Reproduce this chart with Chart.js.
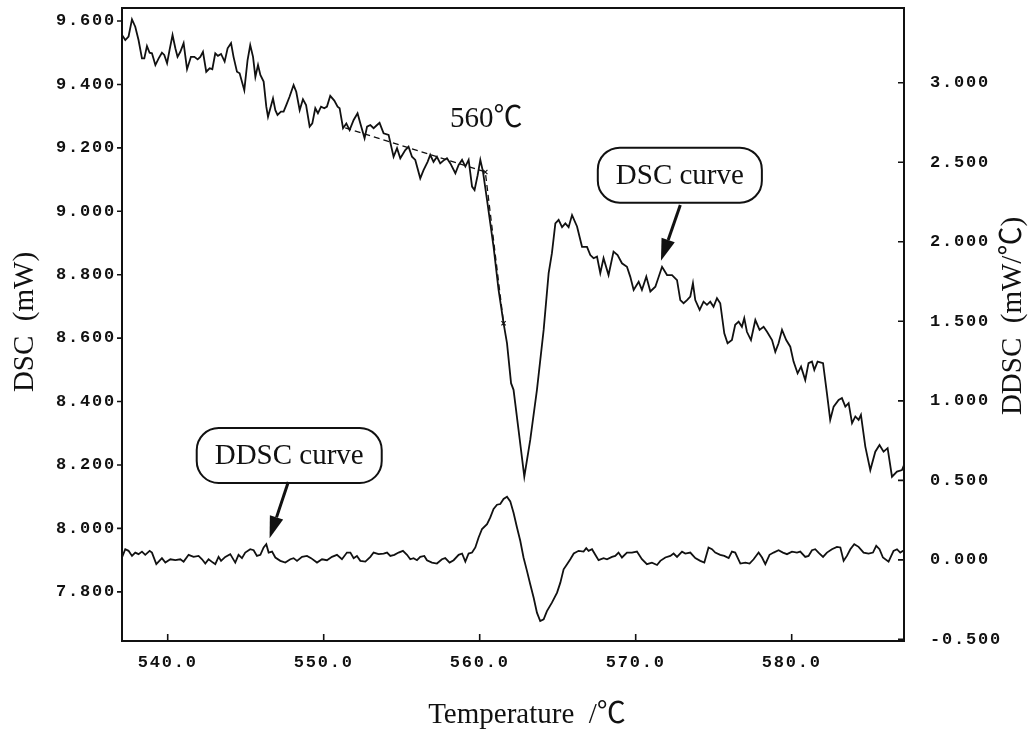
<!DOCTYPE html>
<html>
<head>
<meta charset="utf-8">
<title>DSC / DDSC</title>
<script src="https://cdn.jsdelivr.net/npm/chart.js@4/dist/chart.umd.min.js"></script>
<style>
  html, body { margin: 0; padding: 0; background: #fff; }
  #wrap { width: 1030px; height: 731px; position: relative; }
</style>
</head>
<body>
<div id="wrap"><canvas id="dscChart"></canvas></div>
<script>
// temperature (°C) and DSC signal (mW)
var dscTemp = [
  537.07,537.28,537.49,537.71,537.92,538.13,538.35,538.50,538.67,538.84,
  538.99,539.21,539.42,539.63,539.78,539.96,540.12,540.31,540.49,540.63,
  540.81,541.02,541.24,541.49,541.71,541.92,542.09,542.26,542.47,542.69,
  542.86,543.05,543.22,543.42,543.65,543.84,544.06,544.22,544.44,544.61,
  544.91,545.12,545.29,545.47,545.62,545.79,545.94,546.15,546.32,546.43,
  546.58,546.75,546.90,547.04,547.26,547.43,547.60,547.81,548.07,548.24,
  548.46,548.67,548.87,549.10,549.27,549.46,549.63,549.83,550.04,550.21,
  550.42,550.68,550.89,551.02,551.24,551.45,551.66,551.92,552.17,552.35,
  552.62,552.78,552.99,553.20,553.42,553.58,553.84,554.16,554.48,554.70,
  554.91,555.23,555.44,555.66,555.87,556.19,556.40,556.66,556.83,557.04,
  557.26,557.47,557.73,557.90,558.12,558.44,558.65,558.87,559.08,559.29,
  559.51,559.67,559.87,560.04,560.21,560.47,560.68,560.89,561.21,561.53,
  561.75,562.01,562.17,562.49,562.86,563.24,563.67,564.10,564.42,564.63,
  564.85,565.06,565.28,565.49,565.70,565.92,566.24,566.56,566.88,567.09,
  567.30,567.52,567.73,567.94,568.26,568.58,568.84,569.12,569.44,569.65,
  569.87,570.19,570.40,570.68,570.94,571.26,571.69,572.01,572.33,572.65,
  572.86,573.07,573.29,573.50,573.67,573.82,574.10,574.35,574.57,574.78,
  574.99,575.21,575.42,575.68,575.89,576.17,576.38,576.60,576.81,576.96,
  577.13,577.39,577.67,577.94,578.20,578.42,578.74,578.95,579.16,579.38,
  579.65,579.91,580.12,580.38,580.60,580.87,581.08,581.30,581.45,581.66,
  582.01,582.26,582.47,582.69,583.01,583.22,583.44,583.65,583.87,584.08,
  584.29,584.44,584.72,585.04,585.36,585.63,585.89,586.15,586.43,586.75,
  587.07,587.20
];
var dscValue = [
  9.556,9.540,9.551,9.605,9.582,9.540,9.482,9.482,9.521,9.500,
  9.498,9.461,9.482,9.500,9.493,9.467,9.509,9.556,9.514,9.487,
  9.503,9.530,9.448,9.487,9.487,9.479,9.487,9.503,9.440,9.451,
  9.448,9.498,9.490,9.496,9.472,9.514,9.530,9.487,9.440,9.435,
  9.382,9.477,9.524,9.487,9.424,9.461,9.430,9.409,9.330,9.298,
  9.325,9.356,9.319,9.304,9.314,9.314,9.335,9.361,9.398,9.377,
  9.319,9.353,9.335,9.267,9.277,9.325,9.309,9.330,9.325,9.330,
  9.364,9.349,9.330,9.325,9.262,9.277,9.256,9.288,9.309,9.277,
  9.230,9.267,9.272,9.262,9.272,9.279,9.246,9.241,9.172,9.199,
  9.167,9.193,9.204,9.172,9.162,9.104,9.130,9.156,9.178,9.156,
  9.172,9.151,9.162,9.167,9.151,9.120,9.146,9.162,9.141,9.162,
  9.078,9.067,9.114,9.162,9.125,9.036,8.962,8.888,8.752,8.647,
  8.584,8.458,8.437,8.311,8.163,8.279,8.437,8.626,8.805,8.868,
  8.962,8.973,8.950,8.962,8.950,8.988,8.952,8.888,8.888,8.862,
  8.852,8.857,8.805,8.852,8.799,8.873,8.862,8.836,8.825,8.794,
  8.752,8.778,8.752,8.794,8.747,8.762,8.825,8.799,8.799,8.783,
  8.720,8.710,8.720,8.731,8.773,8.720,8.689,8.715,8.705,8.715,
  8.699,8.726,8.710,8.615,8.584,8.594,8.642,8.652,8.636,8.663,
  8.620,8.594,8.657,8.626,8.636,8.620,8.594,8.557,8.584,8.626,
  8.594,8.573,8.526,8.489,8.510,8.468,8.521,8.526,8.500,8.526,
  8.521,8.426,8.342,8.384,8.405,8.411,8.384,8.395,8.332,8.353,
  8.342,8.358,8.258,8.184,8.242,8.263,8.242,8.253,8.163,8.179,
  8.184,8.200
];

// temperature (°C) and DDSC signal (mW/°C)
var ddscTemp = [
  537.07,537.28,537.49,537.71,537.92,538.13,538.35,538.56,538.84,538.99,
  539.27,539.63,539.85,540.17,540.49,540.81,541.02,541.34,541.66,541.98,
  542.20,542.41,542.62,542.90,543.05,543.26,543.42,543.69,544.01,544.33,
  544.54,544.76,544.97,545.29,545.51,545.72,545.94,546.15,546.32,546.47,
  546.69,546.90,547.22,547.54,547.86,548.07,548.29,548.61,548.93,549.19,
  549.57,549.89,550.21,550.53,550.85,551.17,551.49,551.71,551.92,552.13,
  552.35,552.67,552.99,553.20,553.52,553.84,554.06,554.27,554.53,554.80,
  555.08,555.34,555.55,555.76,555.98,556.19,556.45,556.62,556.94,557.26,
  557.58,557.79,558.07,558.33,558.65,558.87,559.08,559.29,559.51,559.72,
  559.93,560.15,560.47,560.68,560.89,561.11,561.32,561.53,561.75,561.96,
  562.17,562.39,562.60,562.81,563.03,563.24,563.46,563.67,563.88,564.10,
  564.31,564.63,564.96,565.17,565.38,565.60,565.81,566.03,566.34,566.66,
  566.83,566.98,567.20,567.41,567.62,567.94,568.16,568.48,568.69,568.90,
  569.12,569.44,569.76,570.08,570.40,570.72,571.04,571.37,571.58,571.90,
  572.22,572.43,572.65,572.97,573.18,573.50,573.82,574.14,574.40,574.67,
  574.89,575.10,575.42,575.68,575.96,576.17,576.38,576.71,577.03,577.30,
  577.56,577.88,578.10,578.31,578.58,578.84,579.16,579.44,579.70,580.02,
  580.34,580.55,580.87,581.08,581.30,581.51,581.72,582.01,582.26,582.58,
  582.90,583.12,583.33,583.54,583.76,584.01,584.29,584.61,584.93,585.21,
  585.42,585.63,585.85,586.21,586.53,586.75,586.96,587.20
];
var ddscValue = [
  0.015,0.067,0.057,0.025,0.046,0.036,0.052,0.032,0.057,0.046,
  -0.027,0.011,-0.017,0.004,-0.002,0.004,-0.011,0.032,0.019,0.025,
  0.004,-0.023,0.004,-0.017,-0.027,0.019,-0.006,0.019,0.036,-0.017,
  0.032,0.011,0.046,0.067,0.061,0.025,0.032,0.078,0.099,0.046,
  0.052,0.015,-0.006,-0.017,0.004,0.011,-0.006,0.019,0.025,0.011,
  -0.017,0.004,-0.002,0.019,0.032,0.004,0.046,0.046,0.011,0.025,
  -0.006,-0.011,0.019,0.046,0.036,0.040,0.046,0.025,0.032,0.046,
  0.057,0.032,0.004,0.011,-0.002,0.019,0.025,-0.002,-0.017,-0.023,
  0.004,0.011,-0.017,-0.002,0.032,0.040,-0.011,0.040,0.046,0.078,
  0.141,0.194,0.225,0.267,0.320,0.347,0.351,0.383,0.397,0.368,
  0.296,0.204,0.120,0.015,-0.069,-0.153,-0.238,-0.332,-0.385,-0.374,
  -0.322,-0.269,-0.206,-0.143,-0.059,-0.027,0.004,0.040,0.057,0.052,
  0.074,0.057,0.067,0.032,-0.002,0.011,0.004,0.019,0.025,0.046,
  0.015,0.046,0.046,0.052,0.004,-0.027,-0.017,-0.032,-0.006,0.015,
  0.025,0.040,0.019,0.052,0.040,0.046,0.011,-0.006,-0.017,0.078,
  0.067,0.046,0.032,0.025,0.011,0.052,0.046,-0.023,-0.017,-0.023,
  0.004,0.046,0.015,-0.027,0.032,0.046,0.061,0.046,0.036,0.052,
  0.046,0.052,0.019,0.025,0.061,0.067,0.046,0.019,0.046,0.067,
  0.082,0.078,-0.006,0.025,0.067,0.099,0.082,0.046,0.040,0.046,
  0.088,0.067,0.015,-0.011,0.057,0.067,0.046,0.061
];

// onset construction: baseline tangent, crossing point, slope point
var onsetTemp = [551.38, 560.36, 561.53];
var onsetValue = [9.263, 9.124, 8.647];

var tempTicks = [540, 550, 560, 570, 580];
var dscTicks = [7.8, 8.0, 8.2, 8.4, 8.6, 8.8, 9.0, 9.2, 9.4, 9.6];
var ddscTicks = [-0.5, 0, 0.5, 1.0, 1.5, 2.0, 2.5, 3.0];

function pairs(xs, ys) {
  var out = [];
  for (var i = 0; i < xs.length; i++) out.push({x: xs[i], y: ys[i]});
  return out;
}

var INK = '#111';
var SERIF = '"Liberation Serif", "Noto Sans CJK JP", serif';

function roundBox(ctx, cx, cy, w, h, r) {
  var x = cx - w / 2, y = cy - h / 2;
  ctx.beginPath();
  ctx.moveTo(x + r, y);
  ctx.arcTo(x + w, y, x + w, y + h, r);
  ctx.arcTo(x + w, y + h, x, y + h, r);
  ctx.arcTo(x, y + h, x, y, r);
  ctx.arcTo(x, y, x + w, y, r);
  ctx.closePath();
  ctx.stroke();
}

function arrow(ctx, x1, y1, x2, y2) {
  var a = Math.atan2(y2 - y1, x2 - x1);
  var hl = 22, hw = 7;
  var bx = x2 - hl * Math.cos(a), by = y2 - hl * Math.sin(a);
  ctx.beginPath();
  ctx.lineWidth = 3;
  ctx.moveTo(x1, y1);
  ctx.lineTo(bx, by);
  ctx.stroke();
  ctx.beginPath();
  ctx.moveTo(x2, y2);
  ctx.lineTo(bx + hw * Math.sin(a), by - hw * Math.cos(a));
  ctx.lineTo(bx - hw * Math.sin(a), by + hw * Math.cos(a));
  ctx.closePath();
  ctx.fill();
}

function labelBox(ctx, text, cx, cy) {
  ctx.font = '29px ' + SERIF;
  var w = ctx.measureText(text).width + 36;
  ctx.lineWidth = 2;
  roundBox(ctx, cx, cy, w, 55, 22);
  ctx.fillText(text, cx, cy + 1);
}

// keep the plot frame where the scan has it, whatever the label padding says
function fixBox(size, prop) {
  return function(s) {
    s[prop] = size;
    s.paddingTop = 0; s.paddingBottom = 0;
    s.paddingLeft = 0; s.paddingRight = 0;
  };
}

var decorations = {
  id: 'decorations',
  beforeDraw: function(chart) {
    // spaced-out tick numerals like the plotter output
    chart.ctx.letterSpacing = '1.8px';
  },
  afterDraw: function(chart) {
    var ctx = chart.ctx, a = chart.chartArea;
    var sx = chart.scales.x, sy = chart.scales.y, sy1 = chart.scales.y1;
    ctx.save();
    ctx.letterSpacing = '0px';
    ctx.strokeStyle = INK;
    ctx.fillStyle = INK;

    // frame
    ctx.lineWidth = 2;
    ctx.strokeRect(a.left, a.top, a.right - a.left, a.bottom - a.top);

    // tick marks: left outward, right and bottom inward
    ctx.lineWidth = 1.6;
    ctx.beginPath();
    sy.ticks.forEach(function(t) {
      var p = sy.getPixelForValue(t.value);
      ctx.moveTo(a.left - 5, p); ctx.lineTo(a.left, p);
    });
    sy1.ticks.forEach(function(t) {
      var p = sy1.getPixelForValue(t.value);
      ctx.moveTo(a.right - 6, p); ctx.lineTo(a.right, p);
    });
    sx.ticks.forEach(function(t) {
      var p = sx.getPixelForValue(t.value);
      ctx.moveTo(p, a.bottom); ctx.lineTo(p, a.bottom - 7);
    });
    ctx.stroke();

    // axis titles
    ctx.textAlign = 'center';
    ctx.textBaseline = 'middle';
    ctx.font = '29px ' + SERIF;
    ctx.fillText('Temperature  /\u2103', 527, 715);
    ctx.save();
    ctx.translate(25, 322);
    ctx.rotate(-Math.PI / 2);
    ctx.fillText('DSC  (mW)', 0, 0);
    ctx.restore();
    ctx.save();
    ctx.translate(1013, 316);
    ctx.rotate(-Math.PI / 2);
    ctx.fillText('DDSC  (mW/\u2103)', 0, 0);
    ctx.restore();

    // onset label
    ctx.fillText('560\u2103', sx.getPixelForValue(560.42), sy.getPixelForValue(9.291));

    // callouts
    labelBox(ctx, 'DSC curve', sx.getPixelForValue(572.83), sy.getPixelForValue(9.114));
    arrow(ctx, sx.getPixelForValue(572.86), sy.getPixelForValue(9.020),
               sx.getPixelForValue(571.62), sy.getPixelForValue(8.844));
    labelBox(ctx, 'DDSC curve', sx.getPixelForValue(547.79), sy1.getPixelForValue(0.656));
    arrow(ctx, sx.getPixelForValue(547.73), sy1.getPixelForValue(0.490),
               sx.getPixelForValue(546.53), sy1.getPixelForValue(0.136));
    ctx.restore();
  }
};

var tickFont = { family: '"Liberation Mono", "DejaVu Sans Mono", monospace', size: 17, weight: 'bold' };

new Chart(document.getElementById('dscChart'), {
  type: 'line',
  data: {
    datasets: [
      {
        label: 'DSC',
        data: pairs(dscTemp, dscValue),
        yAxisID: 'y',
        borderColor: INK,
        borderWidth: 1.8,
        pointRadius: 0,
        tension: 0
      },
      {
        label: 'DDSC',
        data: pairs(ddscTemp, ddscValue),
        yAxisID: 'y1',
        borderColor: INK,
        borderWidth: 1.8,
        pointRadius: 0,
        tension: 0
      },
      {
        label: 'onset',
        data: pairs(onsetTemp, onsetValue),
        yAxisID: 'y',
        borderColor: INK,
        borderWidth: 1.3,
        borderDash: [6, 4],
        pointStyle: 'crossRot',
        pointRadius: [0, 3, 3],
        pointBorderColor: INK,
        pointBorderWidth: 1.2,
        tension: 0
      }
    ]
  },
  options: {
    responsive: true,
    maintainAspectRatio: false,
    animation: false,
    events: [],
    layout: { padding: { top: 8, left: 0, right: 0, bottom: 0 } },
    plugins: {
      legend: { display: false },
      tooltip: { enabled: false }
    },
    scales: {
      x: {
        type: 'linear',
        min: 537.07,
        max: 587.2,
        grid: { display: false, drawTicks: false },
        border: { display: false },
        afterBuildTicks: function(s) { s.ticks = tempTicks.map(function(v) { return {value: v}; }); },
        afterFit: fixBox(90, 'height'),
        ticks: {
          autoSkip: false,
          maxRotation: 0,
          padding: 12,
          color: INK,
          font: tickFont,
          callback: function(v) { return Number(v).toFixed(1); }
        }
      },
      y: {
        position: 'left',
        min: 7.645,
        max: 9.641,
        grid: { display: false, drawTicks: false },
        border: { display: false },
        afterBuildTicks: function(s) { s.ticks = dscTicks.map(function(v) { return {value: v}; }); },
        afterFit: fixBox(122, 'width'),
        ticks: {
          autoSkip: false,
          padding: 6,
          color: INK,
          font: tickFont,
          callback: function(v) { return Number(v).toFixed(3); }
        }
      },
      y1: {
        position: 'right',
        min: -0.51,
        max: 3.47,
        grid: { display: false, drawTicks: false },
        border: { display: false },
        afterBuildTicks: function(s) { s.ticks = ddscTicks.map(function(v) { return {value: v}; }); },
        afterFit: fixBox(126, 'width'),
        ticks: {
          autoSkip: false,
          padding: 26,
          color: INK,
          font: tickFont,
          callback: function(v) { return Number(v).toFixed(3); }
        }
      }
    }
  },
  plugins: [decorations]
});
</script>
</body>
</html>
